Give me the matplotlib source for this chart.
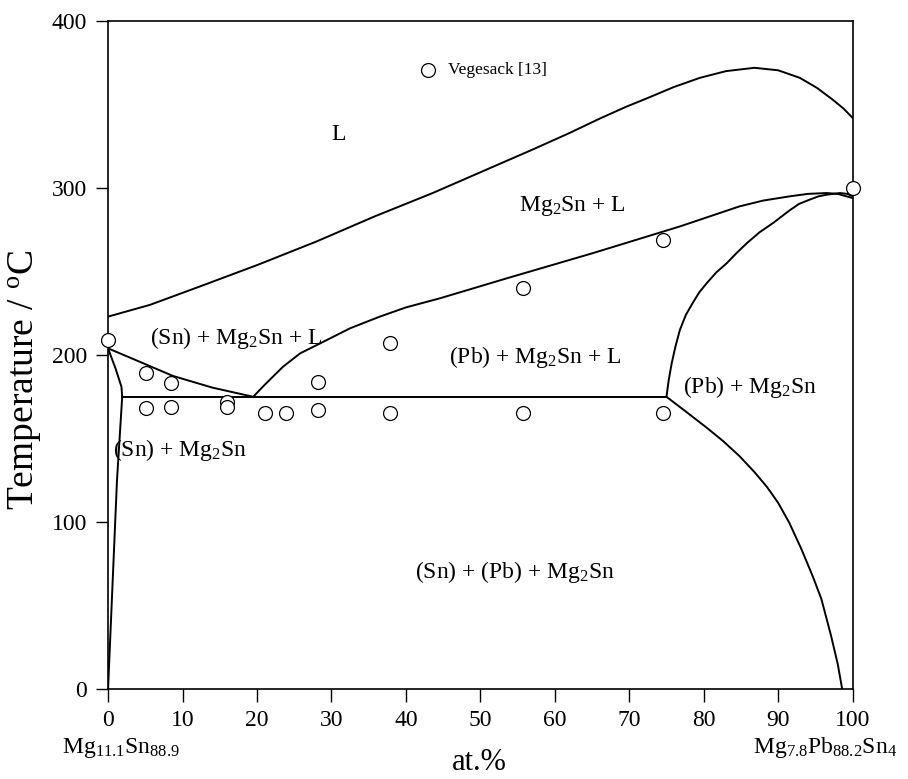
import matplotlib
matplotlib.use("Agg")
import matplotlib.pyplot as plt

# %%
# Settings
# ------------------------------------------
plt.rcParams['font.family'] = ['Liberation Serif', 'DejaVu Serif']
plt.rcParams['mathtext.fontset'] = 'custom'
plt.rcParams['mathtext.rm'] = 'Liberation Serif'
plt.rcParams['mathtext.it'] = 'Liberation Serif:italic'

# %%
# Phase boundaries read off the section (x in at.%, T in degC)
# ------------------------------------------
liquidus_x = [0, 5.6, 12.3, 20.1, 28.0, 35.8, 43.6, 50.3, 57.0, 62.0, 66.0, 69.5, 72.8, 76.0,
              79.5, 83.0, 86.8, 90.0, 92.9, 95.2, 97.3, 98.8, 100]
liquidus_T = [223, 230, 241, 254, 268, 283, 297, 310, 323, 333, 341.5, 348.5, 354.5, 360.5,
              366, 370, 372, 370.5, 366, 360, 353, 347.5, 342]

mg2sn_x = [19.5, 21.0, 23.5, 25.8, 28.5, 32.5, 36.5, 40.0, 44.6, 53.6, 65.1, 76.8, 84.8, 88.0,
           91.5, 94.0, 96.5, 98.0, 99.2, 100]
mg2sn_T = [175, 182, 193, 201, 207, 216, 223, 228.5, 234, 246, 261, 277, 289, 292.5,
           295, 296.5, 297, 296.5, 295, 294]

pb_liq_x = [75.0, 75.3, 75.7, 76.2, 76.8, 77.6, 78.5, 79.4, 80.4, 81.7, 83.1, 84.4, 85.8, 87.5,
            89.3, 91.5, 92.8, 94.2, 95.4, 96.5, 98.3, 99.3, 100]
pb_liq_T = [175, 185, 195, 205, 215, 224, 231, 237.5, 243, 249.5, 255, 261, 267, 273.5,
            279, 286.5, 290.5, 293, 295, 296, 297, 296.5, 295]

pb_solvus_x = [75.0, 77.5, 80.4, 82.6, 84.8, 86.8, 88.5, 90.0, 91.5, 93.1, 94.6, 95.8, 97.1, 98.0, 98.6]
pb_solvus_T = [175, 166.5, 156.5, 148.5, 139.5, 130, 121, 111.5, 99.5, 84, 68, 54, 32, 15, 0]

sn_liq_x = [0, 4.5, 8.7, 14.0, 19.5]
sn_liq_T = [204, 195.5, 187.5, 180.5, 175]

sn_solvus_x = [0, 1.0, 1.8, 1.9, 1.2, 0]
sn_solvus_T = [204, 192, 181, 175, 125, 0]

eutectic_x = [1.9, 75.0]
eutectic_T = [175, 175]

# Vegesack [13] measurements
exp_x = [0, 5.1, 8.5, 5.1, 8.5, 16, 16, 21.1, 23.9, 28.2, 28.2, 37.9, 37.9, 55.7, 55.7, 74.6, 74.6, 100]
exp_T = [209, 189, 183, 168, 169, 172, 169, 165, 165, 167, 184, 207, 165, 240, 165, 269, 165, 300]

x_ticks = list(range(0, 101, 10))
y_ticks = [0, 100, 200, 300, 400]

# %%
# Plot
# ------------------------------------------
fig = plt.figure(figsize=(9.08, 7.79), dpi=100)
ax = fig.add_axes([0.119, 0.1155, 0.820, 0.8575])

lw = 1.4
for xs, ts in [(liquidus_x, liquidus_T), (mg2sn_x, mg2sn_T), (pb_liq_x, pb_liq_T),
               (pb_solvus_x, pb_solvus_T), (sn_liq_x, sn_liq_T),
               (sn_solvus_x, sn_solvus_T), (eutectic_x, eutectic_T)]:
    ax.plot(xs, ts, color='black', lw=lw, solid_joinstyle='round')

ax.plot(exp_x, exp_T, 'o', mfc='white', mec='black', mew=0.9, ms=10, ls='none', clip_on=False, zorder=5)

# legend entry
ax.plot([42.95], [370.7], 'o', mfc='white', mec='black', mew=0.9, ms=10)
ax.text(45.6, 370.7, 'Vegesack [13]', fontsize=12.5, va='center', ha='left')

# phase field labels
fs = 17
ax.text(30.9, 332, 'L', fontsize=fs, ha='center', va='center')
ax.text(62.3, 289, r'Mg$_2$Sn + L', fontsize=fs, ha='center', va='center')
ax.text(17.2, 210, r'(Sn) + Mg$_2$Sn + L', fontsize=fs, ha='center', va='center')
ax.text(57.4, 199, r'(Pb) + Mg$_2$Sn + L', fontsize=fs, ha='center', va='center')
ax.text(86.2, 181, r'(Pb) + Mg$_2$Sn', fontsize=fs, ha='center', va='center')
ax.text(9.7, 143, r'(Sn) + Mg$_2$Sn', fontsize=fs, ha='center', va='center')
ax.text(54.6, 70, r'(Sn) + (Pb) + Mg$_2$Sn', fontsize=fs, ha='center', va='center')

ax.set_xlim(0, 100)
ax.set_ylim(0, 400)
ax.set_xticks(x_ticks)
ax.set_yticks(y_ticks)
ax.tick_params(direction='out', length=9, width=1.0, labelsize=17, pad=6)
for sp in ax.spines.values():
    sp.set_linewidth(1.2)

ax.set_ylabel(r'Temperature / $^{\rm o}$C', fontsize=27)
ax.yaxis.set_label_coords(-0.086, 0.463)

# end members and axis title below the x axis
fig.text(121 / 908, 1 - 748 / 779, r'Mg$_{11.1}$Sn$_{88.9}$', fontsize=17, ha='center', va='center')
fig.text(825 / 908, 1 - 748 / 779, r'Mg$_{7.8}$Pb$_{88.2}$Sn$_{4}$', fontsize=17, ha='center', va='center')
fig.text(479 / 908, 1 - 762 / 779, 'at.%', fontsize=22, ha='center', va='center')

fig.savefig('out.png', dpi=100)
